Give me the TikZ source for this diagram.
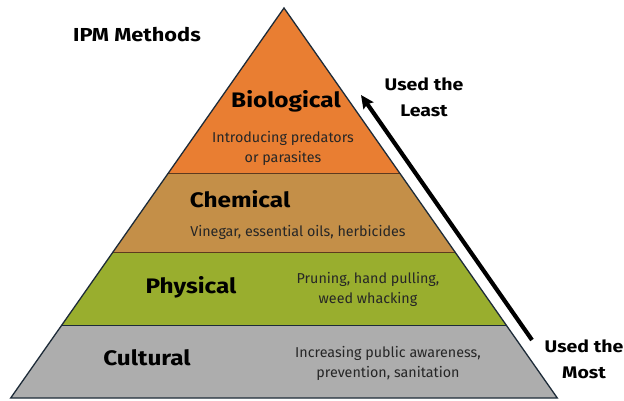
\documentclass[tikz,border=0pt]{standalone}
\usepackage{fontspec}
\setmainfont{Fira Sans}[BoldFeatures={FakeStretch=1.16}]
\usetikzlibrary{arrows.meta}
\definecolor{bioC}{HTML}{E97E32}
\definecolor{chemC}{HTML}{C48F48}
\definecolor{physC}{HTML}{99AE2E}
\definecolor{cultC}{HTML}{ADADAD}
\definecolor{edgeC}{HTML}{1D2B38}
\definecolor{sepC}{HTML}{5E3A1E}
\begin{document}
\begin{tikzpicture}[x=1pt,y=-1pt,
  title/.style={font=\fontsize{21}{22}\selectfont\bfseries, text=black, inner sep=0pt},
  body/.style={font=\fontsize{14.3}{20}\selectfont, text=black!85, align=center, inner sep=0pt},
  side/.style={font=\fontsize{16.8}{26}\selectfont\bfseries, text=black, align=center, inner sep=0pt},
  layersep/.style={draw=sepC, line width=1pt}]
\useasboundingbox (0,0) rectangle (624,401);
\fill[white] (0,0) rectangle (624,401);

% pyramid corners and tier boundaries
\coordinate (apex) at (284,8);
\coordinate (l1) at (167.7,174); \coordinate (r1) at (400.3,174);
\coordinate (l2) at (113.0,252); \coordinate (r2) at (455.0,252);
\coordinate (l3) at (61.9,325);  \coordinate (r3) at (506.1,325);
\coordinate (l4) at (10.7,398);  \coordinate (r4) at (557.3,398);

% tiers
\fill[bioC]  (apex) -- (r1) -- (l1) -- cycle;
\fill[chemC] (l1) -- (r1) -- (r2) -- (l2) -- cycle;
\fill[physC] (l2) -- (r2) -- (r3) -- (l3) -- cycle;
\fill[cultC] (l3) -- (r3) -- (r4) -- (l4) -- cycle;
\draw[layersep] (l1) -- (r1);
\draw[layersep] (l2) -- (r2);
\draw[draw=edgeC, line width=1pt] (l3) -- (r3);
\draw[edgeC, line width=1.3pt, line join=miter] (apex) -- (r4) -- (l4) -- cycle;

% labels
\node[side, font=\fontsize{18.8}{22}\selectfont\bfseries] (heading) at (137,35) {IPM Methods};
\node[title] (bio) at (286,101) {Biological};
\node[body] (bioTxt) at (283,148) {Introducing predators\\or parasites};
\node[title] (chem) at (240,199) {Chemical};
\node[body] (chemTxt) at (298,232) {Vinegar, essential oils, herbicides};
\node[title] (phys) at (191,287) {Physical};
\node[body] (physTxt) at (368,289) {Pruning, hand pulling,\\weed whacking};
\node[title] (cult) at (147,358) {Cultural};
\node[body] (cultTxt) at (388,363) {Increasing public awareness,\\prevention, sanitation};

\node[side] (least) at (424,97) {Used the\\Least};
\node[side] (most) at (584,359) {Used the\\Most};

% usage arrow
\coordinate (arrowFrom) at (532,340);
\coordinate (arrowTo) at (361,95);
\draw[line width=4.2pt, -{Stealth[length=13pt,width=12pt,inset=2pt]}] (arrowFrom) -- (arrowTo);
\end{tikzpicture}
\end{document}
